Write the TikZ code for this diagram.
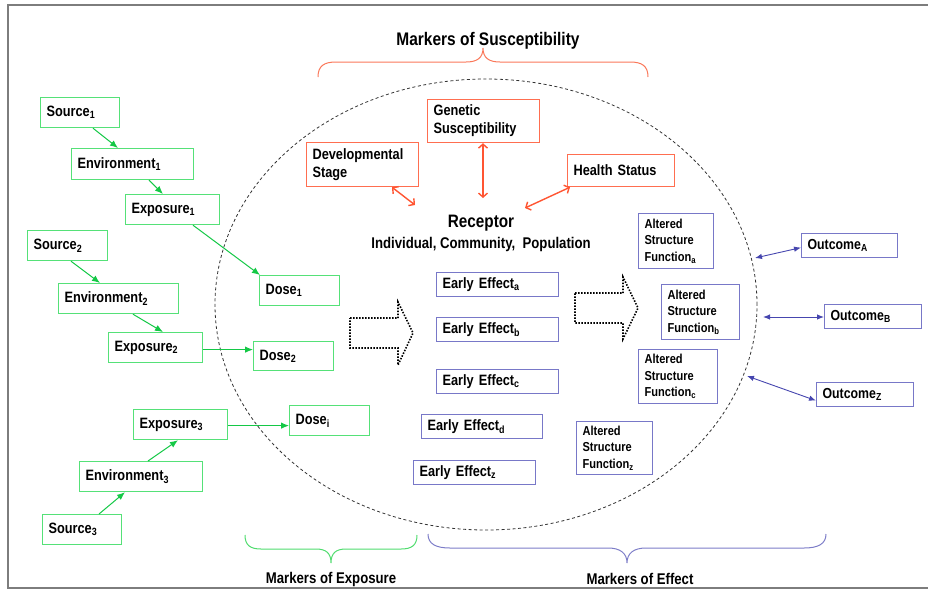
\documentclass[tikz,border=0pt]{standalone}
\usepackage{fontspec}
\setmainfont{Liberation Sans}[FakeStretch=0.85]
\usetikzlibrary{arrows.meta}
\definecolor{gline}{RGB}{85,225,120}
\definecolor{garrowc}{RGB}{20,200,70}
\definecolor{oline}{RGB}{255,110,80}
\definecolor{oarrowc}{RGB}{255,85,50}
\definecolor{bline}{RGB}{120,120,200}
\definecolor{barrowc}{RGB}{70,70,175}
\definecolor{framec}{RGB}{125,125,125}
\definecolor{obrace}{RGB}{250,120,90}
\definecolor{gbrace}{RGB}{80,220,110}
\definecolor{bbrace}{RGB}{125,125,200}
\newcommand\sbs[1]{\textsubscript{#1}}
\newcommand\fmain{\fontsize{15}{18}\selectfont\bfseries}
\newcommand\fsmall{\fontsize{13}{16.5}\selectfont\bfseries}
\newcommand\fout{\fontsize{14.5}{17}\selectfont\bfseries}
\tikzset{
  box/.style={draw, fill=white, line width=1.2pt, inner xsep=6pt, inner ysep=2pt,
    align=left, anchor=north west, font=\fmain},
  gbox/.style={box, draw=gline},
  obox/.style={box, draw=oline},
  bbox/.style={box, draw=bline},
  asfbox/.style={bbox, font=\fsmall},
  outbox/.style={bbox, font=\fout},
  garr/.style={draw=garrowc, line width=1pt, -{Latex[length=8pt,width=6.5pt]}},
  oarr/.style={draw=oarrowc, line width=1.4pt, {Straight Barb[length=4pt,width=9pt]}-{Straight Barb[length=4pt,width=9pt]}},
  barr/.style={draw=barrowc, line width=0.9pt, {Latex[length=7pt,width=5.5pt]}-{Latex[length=7pt,width=5.5pt]}},
  blockarrow/.style={draw=black, line width=1.6pt, dash pattern=on 1.5pt off 1.5pt, line join=miter},
  label/.style={font=\fontsize{15.5}{18}\selectfont\bfseries, inner sep=0pt},
  title/.style={font=\fontsize{18.2}{21}\selectfont\bfseries, inner sep=0pt},
  bracepath/.style={line width=1pt},
}
\begin{document}
\begin{tikzpicture}[x=1pt, y=-1pt]
\useasboundingbox (0,0) rectangle (928,590);

% outer frame (open on the right)
\draw[framec, line width=1.5pt] (928,5) -- (8,5) -- (8,588) -- (928,588);

% receptor region
\draw[black!80, line width=0.8pt, dash pattern=on 3pt off 2.5pt]
  (486,304.5) ellipse [x radius=271pt, y radius=225.5pt];

% ---- exposure chains ----
\node[gbox, text width=67pt,  minimum height=30pt] (s1) at (40,97)  {Source\sbs{1}};
\node[gbox, text width=110pt, minimum height=31pt] (e1) at (71,148) {Environment\sbs{1}};
\node[gbox, text width=82pt,  minimum height=30pt] (x1) at (125,194) {Exposure\sbs{1}};
\node[gbox, text width=68pt,  minimum height=30pt] (s2) at (27,230) {Source\sbs{2}};
\node[gbox, text width=108pt, minimum height=30pt] (e2) at (58,283) {Environment\sbs{2}};
\node[gbox, text width=82pt,  minimum height=30pt] (x2) at (108,332) {Exposure\sbs{2}};
\node[gbox, text width=68pt,  minimum height=30pt] (d1) at (259,275) {Dose\sbs{1}};
\node[gbox, text width=68pt,  minimum height=29pt] (d2) at (253,341) {Dose\sbs{2}};
\node[gbox, text width=68pt,  minimum height=30pt] (di) at (289,405) {Dose\sbs{i}};
\node[gbox, text width=82pt,  minimum height=30pt] (x3) at (133,409) {Exposure\sbs{3}};
\node[gbox, text width=111pt, minimum height=30pt] (e3) at (79,461) {Environment\sbs{3}};
\node[gbox, text width=67pt,  minimum height=30pt] (s3) at (42,514) {Source\sbs{3}};

\draw[garr] ([xshift=53pt]s1.south west) -- ([xshift=47pt]e1.north west);
\draw[garr] ([xshift=78pt]e1.south west) -- ([xshift=38pt]x1.north west);
\draw[garr] ([xshift=68pt]x1.south west) -- ([xshift=1pt]d1.north west);
\draw[garr] ([xshift=44pt]s2.south west) -- ([xshift=42pt]e2.north west);
\draw[garr] ([xshift=75pt]e2.south west) -- ([xshift=55pt]x2.north west);
\draw[garr] ([yshift=-2pt]x2.east) -- ([yshift=-2pt]x2.east -| d2.west);
\draw[garr] ([yshift=-1pt]x3.east) -- ([yshift=-1pt]x3.east -| di.west);
\draw[garr] ([xshift=69pt]e3.north west) -- ([xshift=45pt]x3.south west);
\draw[garr] ([xshift=57pt]s3.north west) -- ([xshift=46pt]e3.south west);

% ---- susceptibility ----
\node[title] (mos) at (488,41) {Markers of Susceptibility};
\draw[obrace, bracepath] (318,77) .. controls (318,66) and (324,62) .. (336,62)
  -- (466,62) .. controls (477,62) and (483,58) .. (483,48)
  .. controls (483,58) and (489,62) .. (500,62)
  -- (630,62) .. controls (642,62) and (648,66) .. (648,77);

\node[obox, text width=100pt, minimum height=43pt] (gen) at (427,99) {Genetic\\Susceptibility};
\node[obox, text width=100pt, minimum height=44pt] (dev) at (306,142) {Developmental\\Stage};
\node[obox, text width=95pt,  minimum height=32pt] (hs)  at (567,154) {Health Status};

\node[font=\fontsize{18}{20}\selectfont\bfseries, inner sep=0pt] (rec) at (481,223) {Receptor};
\node[label] (pop) at (481,244) {Individual, Community,~ Population};

\coordinate (rdev) at (415,205);
\coordinate (rgen) at (483,198);
\coordinate (rhs)  at (525,208);
\draw[oarr] ([xshift=86pt]dev.south west) -- (rdev);
\draw[oarr] ([xshift=56pt]gen.south west) -- (rgen);
\draw[oarr] ([xshift=3pt]hs.south west) -- (rhs);

% ---- effects ----
\draw[blockarrow] (350,318) -- (398,318) -- (398,302) -- (413,333) -- (398,365)
  -- (398,348) -- (350,348) -- cycle;
\draw[blockarrow] (575,293) -- (623,293) -- (623,277) -- (638,308) -- (623,339)
  -- (623,323) -- (575,323) -- cycle;

\node[bbox, text width=110pt, minimum height=24pt] (ea) at (436,272) {Early Effect\sbs{a}};
\node[bbox, text width=110pt, minimum height=24pt] (eb) at (436,317) {Early Effect\sbs{b}};
\node[bbox, text width=110pt, minimum height=24pt] (ec) at (436,369) {Early Effect\sbs{c}};
\node[bbox, text width=109pt, minimum height=24pt] (ed) at (421,414) {Early Effect\sbs{d}};
\node[bbox, text width=110pt, minimum height=24pt] (ez) at (413,460) {Early Effect\sbs{z}};

\node[asfbox, text width=63pt, minimum height=55pt] (fa) at (638,213) {Altered\\Structure\\Function\sbs{a}};
\node[asfbox, text width=66pt, minimum height=55pt] (fb) at (661,284) {Altered\\Structure\\Function\sbs{b}};
\node[asfbox, text width=67pt, minimum height=54pt] (fc) at (638,349) {Altered\\Structure\\Function\sbs{c}};
\node[asfbox, text width=64pt, minimum height=53pt] (fz) at (576,421) {Altered\\Structure\\Function\sbs{z}};

\node[outbox, text width=84pt, minimum height=24pt] (oa) at (801,233) {Outcome\sbs{A}};
\node[outbox, text width=85pt, minimum height=24pt] (ob) at (824,304) {Outcome\sbs{B}};
\node[outbox, text width=85pt, minimum height=24pt] (oz) at (816,382) {Outcome\sbs{Z}};

\coordinate (pa) at (755,258);
\coordinate (pb) at (763,317);
\coordinate (pz) at (747,376);
\draw[barr] (pa) -- ([yshift=-2pt]oa.west);
\draw[barr] (pb) -- (pb -| ob.west);
\draw[barr] (pz) -- ([yshift=-6pt]oz.west);

% ---- bottom markers ----
\draw[gbrace, bracepath] (245,535) .. controls (245,545) and (250,549) .. (261,549)
  -- (316,549) .. controls (326,549) and (331,553) .. (331,563)
  .. controls (331,553) and (336,549) .. (346,549)
  -- (401,549) .. controls (412,549) and (417,545) .. (417,535);
\draw[bbrace, bracepath] (428,534) .. controls (428,544) and (436,548) .. (450,548)
  -- (608,548) .. controls (620,548) and (627,553) .. (627,563)
  .. controls (627,553) and (634,548) .. (646,548)
  -- (804,548) .. controls (818,548) and (826,544) .. (826,534);
\node[label] (moe) at (331,579) {Markers of Exposure};
\node[label] (mef) at (640,579) {Markers of Effect};
\end{tikzpicture}
\end{document}
